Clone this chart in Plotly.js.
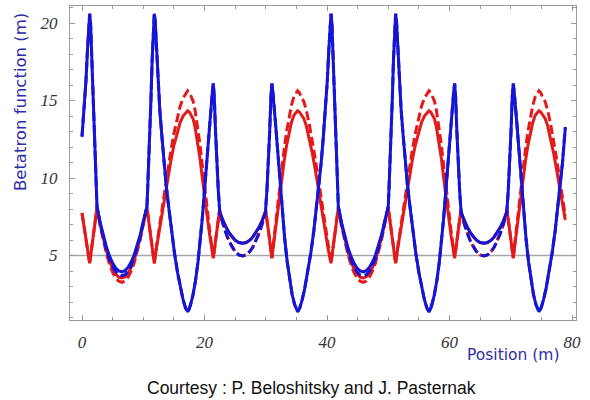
<!DOCTYPE html>
<html>
<head>
<meta charset="utf-8">
<script src="https://cdn.plot.ly/plotly-3.0.1.min.js"></script>
<style>
html,body{margin:0;padding:0;background:#fff;}
#chart{width:590px;height:400px;}
</style>
</head>
<body>
<div id="chart"></div>
<script>
// Position along the lattice (m) for the blue (horizontal) betatron function
const blueX = [
0, 0.35, 0.65, 0.9, 1.1, 1.25,
1.4, 1.6, 1.8, 2.0, 2.18, 2.33, 2.45,
3.0, 3.5, 4.0, 4.5, 5.0, 5.5, 6.0, 6.52, 7.0, 7.5, 8.0, 8.5, 9.0, 9.5, 10.0, 10.6,
10.72, 10.87, 11.05, 11.25, 11.45, 11.65, 11.8,
11.95, 12.15, 12.4, 12.7, 13.05, 13.4, 13.7, 14.1, 14.6, 15.1, 15.6, 16.1, 16.5, 16.9, 17.25,
17.44, 17.74, 18.14, 18.54, 18.94, 19.34, 19.64, 19.94, 20.24, 20.54, 20.84, 21.14, 21.29, 21.44,
21.6, 21.8, 22.0, 22.25, 22.5,
23.0, 23.5, 24.0, 24.5, 25.0, 25.6, 26.22, 26.8, 27.4, 27.9, 28.4, 28.9, 29.4, 29.94,
30.19, 30.44, 30.64, 30.84, 31.0,
31.15, 31.3, 31.6, 31.9, 32.2, 32.5, 32.8, 33.1, 33.5, 33.9, 34.3, 34.7, 35.0, 35.2,
35.55, 35.95, 36.35, 36.85, 37.35, 37.85, 38.35, 38.75, 39.05, 39.4, 39.75, 40.05, 40.3, 40.5, 40.65,
40.8, 41.0, 41.2, 41.4, 41.58, 41.73, 41.85,
42.4, 42.9, 43.4, 43.9, 44.4, 44.9, 45.4, 45.92, 46.4, 46.9, 47.4, 47.9, 48.4, 48.9, 49.4, 50.0,
50.12, 50.27, 50.45, 50.65, 50.85, 51.05, 51.2,
51.35, 51.55, 51.8, 52.1, 52.45, 52.8, 53.1, 53.5, 54.0, 54.5, 55.0, 55.5, 55.9, 56.3, 56.65,
56.84, 57.14, 57.54, 57.94, 58.34, 58.74, 59.04, 59.34, 59.64, 59.94, 60.24, 60.54, 60.69, 60.84,
61.0, 61.2, 61.4, 61.65, 61.9,
62.4, 62.9, 63.4, 63.9, 64.4, 65.0, 65.62, 66.2, 66.8, 67.3, 67.8, 68.3, 68.8, 69.34,
69.59, 69.84, 70.04, 70.24, 70.4,
70.55, 70.7, 71.0, 71.3, 71.6, 71.9, 72.2, 72.5, 72.9, 73.3, 73.7, 74.1, 74.4, 74.6,
74.95, 75.35, 75.75, 76.25, 76.75, 77.25, 77.75, 78.15, 78.45, 78.9
];
// Blue, solid curve (m)
const blueSolid = [
12.66, 14.4, 16.3, 18.3, 20.1, 20.6,
20.0, 17.6, 15.0, 12.7, 10.7, 9.3, 8.15,
7.08, 6.24, 5.53, 4.96, 4.51, 4.19, 4.01, 3.95, 4.02, 4.23, 4.56, 5.02, 5.61, 6.33, 7.19, 8.15,
9.3, 10.7, 12.7, 15.0, 17.6, 20.0, 20.6,
20.1, 18.3, 16.3, 14.4, 12.66, 11.0, 9.7, 8.3, 6.6, 5.15, 3.9, 2.85, 2.15, 1.62, 1.37,
1.5, 1.85, 2.5, 3.4, 4.6, 6.05, 7.4, 8.9, 10.5, 12.0, 13.5, 15.0, 15.6, 16.1,
15.2, 13.0, 11.0, 9.2, 7.75,
7.24, 6.82, 6.48, 6.20, 5.99, 5.84, 5.79, 5.84, 5.99, 6.20, 6.48, 6.82, 7.24, 7.75,
9.2, 11.0, 13.0, 15.2, 16.1,
15.6, 15.0, 13.5, 12.0, 10.5, 8.9, 7.4, 6.05, 4.6, 3.4, 2.5, 1.85, 1.5, 1.37,
1.62, 2.15, 2.85, 3.9, 5.15, 6.6, 8.3, 9.7, 11.0, 12.66, 14.4, 16.3, 18.3, 20.1, 20.6,
20.0, 17.6, 15.0, 12.7, 10.7, 9.3, 8.15,
7.08, 6.24, 5.53, 4.96, 4.51, 4.19, 4.01, 3.95, 4.02, 4.23, 4.56, 5.02, 5.61, 6.33, 7.19, 8.15,
9.3, 10.7, 12.7, 15.0, 17.6, 20.0, 20.6,
20.1, 18.3, 16.3, 14.4, 12.66, 11.0, 9.7, 8.3, 6.6, 5.15, 3.9, 2.85, 2.15, 1.62, 1.37,
1.5, 1.85, 2.5, 3.4, 4.6, 6.05, 7.4, 8.9, 10.5, 12.0, 13.5, 15.0, 15.6, 16.1,
15.2, 13.0, 11.0, 9.2, 7.75,
7.24, 6.82, 6.48, 6.20, 5.99, 5.84, 5.79, 5.84, 5.99, 6.20, 6.48, 6.82, 7.24, 7.75,
9.2, 11.0, 13.0, 15.2, 16.1,
15.6, 15.0, 13.5, 12.0, 10.5, 8.9, 7.4, 6.05, 4.6, 3.4, 2.5, 1.85, 1.5, 1.37,
1.62, 2.15, 2.85, 3.9, 5.15, 6.6, 8.3, 9.7, 11.0, 13.2
];
// Blue, dashed curve (m)
const blueDashed = [
12.7, 14.4, 16.3, 18.3, 20.1, 20.6,
20.0, 17.6, 15.0, 12.7, 10.7, 9.3, 8.15,
7.01, 6.12, 5.36, 4.75, 4.28, 3.94, 3.74, 3.68, 3.76, 3.97, 4.33, 4.82, 5.45, 6.22, 7.12, 8.15,
9.3, 10.7, 12.7, 15.0, 17.6, 20.0, 20.6,
20.1, 18.3, 16.3, 14.4, 12.66, 11.0, 9.7, 8.3, 6.6, 5.15, 3.9, 2.85, 2.15, 1.62, 1.37,
1.5, 1.85, 2.5, 3.4, 4.6, 6.05, 7.4, 8.9, 10.5, 12.0, 13.5, 15.0, 15.6, 16.1,
15.2, 13.0, 11.0, 9.2, 7.75,
7.03, 6.43, 5.94, 5.55, 5.26, 5.04, 4.97, 5.04, 5.26, 5.55, 5.94, 6.43, 7.03, 7.75,
9.2, 11.0, 13.0, 15.2, 16.1,
15.6, 15.0, 13.5, 12.0, 10.5, 8.9, 7.4, 6.05, 4.6, 3.4, 2.5, 1.85, 1.5, 1.37,
1.62, 2.15, 2.85, 3.9, 5.15, 6.6, 8.3, 9.7, 11.0, 12.66, 14.4, 16.3, 18.3, 20.1, 20.6,
20.0, 17.6, 15.0, 12.7, 10.7, 9.3, 8.15,
7.01, 6.12, 5.36, 4.75, 4.28, 3.94, 3.74, 3.68, 3.76, 3.97, 4.33, 4.82, 5.45, 6.22, 7.12, 8.15,
9.3, 10.7, 12.7, 15.0, 17.6, 20.0, 20.6,
20.1, 18.3, 16.3, 14.4, 12.66, 11.0, 9.7, 8.3, 6.6, 5.15, 3.9, 2.85, 2.15, 1.62, 1.37,
1.5, 1.85, 2.5, 3.4, 4.6, 6.05, 7.4, 8.9, 10.5, 12.0, 13.5, 15.0, 15.6, 16.1,
15.2, 13.0, 11.0, 9.2, 7.75,
7.03, 6.43, 5.94, 5.55, 5.26, 5.04, 4.97, 5.04, 5.26, 5.55, 5.94, 6.43, 7.03, 7.75,
9.2, 11.0, 13.0, 15.2, 16.1,
15.6, 15.0, 13.5, 12.0, 10.5, 8.9, 7.4, 6.05, 4.6, 3.4, 2.5, 1.85, 1.5, 1.37,
1.62, 2.15, 2.85, 3.9, 5.15, 6.6, 8.3, 9.7, 11.0, 13.3
];
// Position along the lattice (m) for the red (vertical) betatron function
const redX = [
0, 0.4, 0.8, 1.25,
1.65, 2.05, 2.45,
3.0, 3.5, 4.0, 4.5, 5.0, 5.5, 6.0, 6.52, 7.0, 7.5, 8.0, 8.5, 9.0, 9.5, 10.0, 10.6,
11.0, 11.4, 11.8,
12.2, 12.6, 13.0, 13.5, 14.0, 14.5, 15.0, 15.5, 16.0, 16.5, 17.0, 17.25,
17.55, 17.85, 18.15, 18.45, 18.85, 19.25, 19.65, 20.05, 20.45, 20.85, 21.44,
21.95, 22.45,
23.0, 23.5, 24.0, 24.5, 25.0, 25.6, 26.22, 26.8, 27.4, 27.9, 28.4, 28.9, 29.4, 29.99,
30.5, 31.0,
31.4, 31.8, 32.2, 32.6, 33.0, 33.4, 33.8, 34.2, 34.6, 35.0, 35.2,
35.5, 35.8, 36.2, 36.6, 37.1, 37.6, 38.1, 38.6, 39.1, 39.6, 40.1, 40.65,
41.05, 41.45, 41.85,
42.4, 42.9, 43.4, 43.9, 44.4, 44.9, 45.4, 45.92, 46.4, 46.9, 47.4, 47.9, 48.4, 48.9, 49.4, 50.0,
50.4, 50.8, 51.2,
51.6, 52.0, 52.4, 52.9, 53.4, 53.9, 54.4, 54.9, 55.4, 55.9, 56.4, 56.65,
56.95, 57.25, 57.55, 57.85, 58.25, 58.65, 59.05, 59.45, 59.85, 60.25, 60.84,
61.35, 61.85,
62.4, 62.9, 63.4, 63.9, 64.4, 65.0, 65.62, 66.2, 66.8, 67.3, 67.8, 68.3, 68.8, 69.39,
69.9, 70.4,
70.8, 71.2, 71.6, 72.0, 72.4, 72.8, 73.2, 73.6, 74.0, 74.4, 74.6,
74.9, 75.2, 75.6, 76.0, 76.5, 77.0, 77.5, 78.0, 78.5, 78.9
];
// Red, solid curve (m)
const redSolid = [
7.74, 6.7, 5.65, 4.5,
5.7, 6.9, 8.1,
6.94, 6.03, 5.27, 4.64, 4.16, 3.81, 3.61, 3.55, 3.63, 3.85, 4.21, 4.71, 5.35, 6.14, 7.06, 8.1,
6.9, 5.7, 4.5,
5.6, 6.6, 7.6, 8.8, 10.0, 11.1, 12.1, 12.9, 13.55, 14.0, 14.28, 14.34,
14.25, 14.0, 13.8, 13.3, 12.4, 11.3, 10.0, 8.6, 7.5, 6.3, 4.84,
6.4, 7.9,
7.24, 6.82, 6.48, 6.20, 5.99, 5.84, 5.79, 5.84, 5.99, 6.20, 6.48, 6.82, 7.24, 7.9,
6.4, 4.84,
6.1, 7.4, 8.7, 9.95, 11.1, 12.1, 12.95, 13.6, 14.05, 14.3, 14.34,
14.26, 14.05, 13.85, 13.4, 12.6, 11.6, 10.5, 9.35, 8.1, 6.85, 5.6, 4.5,
5.7, 6.9, 8.1,
6.94, 6.03, 5.27, 4.64, 4.16, 3.81, 3.61, 3.55, 3.63, 3.85, 4.21, 4.71, 5.35, 6.14, 7.06, 8.1,
6.9, 5.7, 4.5,
5.6, 6.6, 7.6, 8.8, 10.0, 11.1, 12.1, 12.9, 13.55, 14.0, 14.28, 14.34,
14.25, 14.0, 13.8, 13.3, 12.4, 11.3, 10.0, 8.6, 7.5, 6.3, 4.84,
6.4, 7.9,
7.24, 6.82, 6.48, 6.20, 5.99, 5.84, 5.79, 5.84, 5.99, 6.20, 6.48, 6.82, 7.24, 7.9,
6.4, 4.84,
6.1, 7.4, 8.7, 9.95, 11.1, 12.1, 12.95, 13.6, 14.05, 14.3, 14.34,
14.26, 14.05, 13.85, 13.4, 12.6, 11.6, 10.5, 9.35, 8.1, 7.3
];
// Red, dashed curve (m)
const redDashed = [
7.74, 6.7, 5.65, 4.5,
5.7, 6.9, 8.1,
6.86, 5.90, 5.09, 4.43, 3.91, 3.55, 3.34, 3.27, 3.35, 3.59, 3.97, 4.50, 5.18, 6.01, 6.99, 8.1,
6.9, 5.7, 4.5,
5.7, 6.8, 7.9, 9.2, 10.5, 11.75, 12.85, 13.8, 14.6, 15.15, 15.52, 15.63,
15.5, 15.2, 14.95, 14.4, 13.4, 12.2, 10.8, 9.3, 7.9, 6.6, 4.84,
6.4, 7.9,
7.03, 6.43, 5.94, 5.55, 5.26, 5.04, 4.97, 5.04, 5.26, 5.55, 5.94, 6.43, 7.03, 7.9,
6.4, 4.84,
6.3, 7.75, 9.2, 10.6, 11.85, 13.0, 13.95, 14.7, 15.25, 15.55, 15.63,
15.5, 15.2, 14.95, 14.4, 13.5, 12.4, 11.2, 9.9, 8.5, 7.1, 5.75, 4.5,
5.7, 6.9, 8.1,
6.86, 5.90, 5.09, 4.43, 3.91, 3.55, 3.34, 3.27, 3.35, 3.59, 3.97, 4.50, 5.18, 6.01, 6.99, 8.1,
6.9, 5.7, 4.5,
5.7, 6.8, 7.9, 9.2, 10.5, 11.75, 12.85, 13.8, 14.6, 15.15, 15.52, 15.63,
15.5, 15.2, 14.95, 14.4, 13.4, 12.2, 10.8, 9.3, 7.9, 6.6, 4.84,
6.4, 7.9,
7.03, 6.43, 5.94, 5.55, 5.26, 5.04, 4.97, 5.04, 5.26, 5.55, 5.94, 6.43, 7.03, 7.9,
6.4, 4.84,
6.3, 7.75, 9.2, 10.6, 11.85, 13.0, 13.95, 14.7, 15.25, 15.55, 15.63,
15.5, 15.2, 14.95, 14.4, 13.5, 12.4, 11.2, 9.9, 8.5, 7.55
];
const xTicks = [0, 20, 40, 60, 80];
const yTicks = [5, 10, 15, 20];
const refLine = 5;

const BLUE = '#1515d6';
const RED = '#e41a1a';
const FRAME = '#9a9a9a';
const DASH = '9px,4px';

const traces = [
  {x: redX, y: redDashed, type: 'scatter', mode: 'lines', name: 'red dashed',
   line: {color: RED, width: 3, dash: DASH}, hoverinfo: 'skip'},
  {x: redX, y: redSolid, type: 'scatter', mode: 'lines', name: 'red solid',
   line: {color: RED, width: 3}, hoverinfo: 'skip'},
  {x: blueX, y: blueDashed, type: 'scatter', mode: 'lines', name: 'blue dashed',
   line: {color: BLUE, width: 3, dash: DASH}, hoverinfo: 'skip'},
  {x: blueX, y: blueSolid, type: 'scatter', mode: 'lines', name: 'blue solid',
   line: {color: BLUE, width: 3}, hoverinfo: 'skip'}
];

const tickFont = {family: 'Liberation Serif, Times New Roman, serif', size: 17, color: '#333', style: 'italic'};

const layout = {
  width: 590, height: 400,
  margin: {l: 70, r: 14, t: 6, b: 80},
  paper_bgcolor: '#ffffff', plot_bgcolor: '#ffffff',
  showlegend: false,
  xaxis: {
    range: [-1.96, 80.65], tickmode: 'array', tickvals: xTicks,
    ticks: 'inside', ticklen: 5, tickwidth: 1, tickcolor: FRAME,
    showline: true, linecolor: FRAME, linewidth: 1, mirror: 'ticks',
    showgrid: false, zeroline: false,
    minor: {ticks: 'inside', dtick: 5, tick0: 0, ticklen: 3, tickcolor: FRAME, showgrid: false},
    tickfont: tickFont, ticklabelstandoff: 7
  },
  yaxis: {
    range: [0.84, 21.1], tickmode: 'array', tickvals: yTicks,
    ticks: 'inside', ticklen: 5, tickwidth: 1, tickcolor: FRAME,
    showline: true, linecolor: FRAME, linewidth: 1, mirror: 'ticks',
    showgrid: false, zeroline: false,
    minor: {ticks: 'inside', dtick: 1, tick0: 0, ticklen: 3, tickcolor: FRAME, showgrid: false},
    tickfont: tickFont, ticklabelstandoff: 8
  },
  shapes: [
    {type: 'line', xref: 'paper', yref: 'y', x0: 0, x1: 1, y0: refLine, y1: refLine,
     line: {color: '#a6a6a6', width: 1.5}, layer: 'below'}
  ],
  annotations: [
    {text: 'Betatron function (m)', xref: 'paper', yref: 'paper', x: -0.0988, y: 0.694,
     xanchor: 'center', yanchor: 'middle', textangle: -90, showarrow: false,
     font: {family: 'DejaVu Sans, sans-serif', size: 16.5, color: '#2e2ea6'}},
    {text: 'Position (m)', xref: 'paper', yref: 'paper', x: 0.7806, y: -0.1115,
     xanchor: 'left', yanchor: 'middle', showarrow: false,
     font: {family: 'DejaVu Sans, sans-serif', size: 15.5, color: '#2e2ea6'}},
    {text: 'Courtesy : P. Beloshitsky and J. Pasternak', xref: 'paper', yref: 'paper', x: 0.478, y: -0.216,
     xanchor: 'center', yanchor: 'middle', showarrow: false,
     font: {family: 'Liberation Sans, Arial, sans-serif', size: 17.5, color: '#111'}}
  ]
};

Plotly.newPlot('chart', traces, layout, {staticPlot: true, displayModeBar: false});
</script>
</body>
</html>
